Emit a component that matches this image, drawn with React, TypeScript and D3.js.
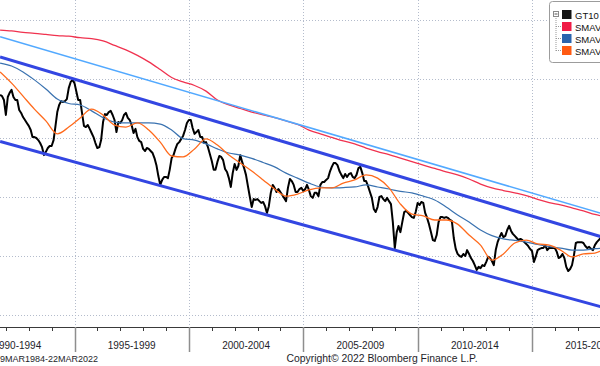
import { useRef, useEffect } from "react";
import * as d3 from "d3";

// GT10 monthly closes, starting Oct 1991
const gt10Start = "1991-10-01";
const gt10 = [
  7.46, 7.42, 7.29, 6.78, 7.39, 7.53, 7.63, 7.39, 7.29, 7.29, 6.95, 6.85,
  6.71, 6.61, 6.51, 6.41, 6.27, 6.03, 6.03, 6.0, 5.93, 5.83, 5.69, 5.42,
  5.53, 5.66, 5.73, 5.73, 5.93, 6.37, 6.88, 7.12, 7.25, 7.22, 7.25, 7.32,
  7.69, 7.9, 7.97, 7.86, 7.56, 7.29, 7.29, 6.85, 6.41, 6.37, 6.44, 6.31,
  6.17, 6.03, 5.83, 5.66, 5.69, 5.93, 6.54, 6.81, 6.78, 6.88, 6.92, 6.78,
  6.61, 6.2, 6.54, 6.51, 6.61, 6.78, 6.85, 6.68, 6.61, 6.44, 6.17, 6.31,
  6.03, 5.9, 5.86, 5.63, 5.56, 5.66, 5.63, 5.56, 5.49, 5.32, 5.08, 4.71,
  4.41, 4.58, 4.68, 4.68, 4.64, 4.92, 5.32, 5.42, 5.63, 5.8, 5.86, 5.97,
  6.07, 6.27, 6.51, 6.61, 6.61, 6.34, 6.14, 6.2, 6.27, 6.03, 6.03, 5.83,
  5.86, 5.69, 5.46, 5.22, 4.92, 4.92, 5.19, 5.39, 5.36, 5.25, 4.95, 4.85,
  4.64, 4.34, 4.81, 5.12, 4.92, 5.05, 5.42, 5.19, 4.98, 4.75, 4.37, 4.0,
  3.66, 3.93, 3.9, 3.93, 3.86, 3.8, 3.83, 3.69, 3.46, 3.69, 4.14, 4.41,
  4.31, 4.17, 4.27, 4.17, 4.07, 3.97, 3.86, 4.31, 4.61, 4.54, 4.41, 4.17,
  4.17, 4.27, 4.31, 4.2, 4.27, 4.41, 4.24, 4.03, 3.97, 4.14, 4.14, 4.03,
  4.41, 4.51, 4.51, 4.58, 4.64, 4.85, 5.02, 5.15, 5.15, 5.08, 4.88, 4.75,
  4.64, 4.78, 4.68, 4.78, 4.81, 4.68, 4.64, 4.75, 4.98, 5.02, 4.81, 4.54,
  4.54, 4.37, 4.17, 3.97, 3.59, 3.49, 3.66, 4.0, 4.03, 3.93, 3.86, 3.97,
  3.86, 3.76, 3.15, 2.27, 2.81, 3.02, 2.81, 3.15, 3.49, 3.53, 3.46, 3.39,
  3.32, 3.29, 3.49, 3.8, 3.73, 3.83, 3.8, 3.46, 3.29, 3.08, 2.81, 2.54,
  2.51, 2.71, 3.15, 3.32, 3.32, 3.29, 3.32, 3.29, 3.22, 3.19, 2.61, 2.24,
  2.07, 2.0, 1.97, 2.07, 2.0, 2.2, 2.07, 1.93, 1.83, 1.69, 1.53, 1.63,
  1.59, 1.69, 1.66, 1.8, 1.97, 1.93, 1.83, 1.69, 2.2, 2.47, 2.64, 2.78,
  2.64, 2.68, 2.88, 3.02, 2.85, 2.75, 2.68, 2.61, 2.54, 2.58, 2.54, 2.47,
  2.41, 2.34, 2.24, 2.17, 1.8, 1.97, 2.2, 2.24, 2.27, 2.27, 2.37, 2.2,
  2.27, 2.27, 2.27, 2.27, 2.14, 1.93, 1.97, 2.07, 1.93, 1.63, 1.49, 1.56,
  1.69, 2.03, 2.44, 2.47, 2.47, 2.47, 2.44, 2.34, 2.27, 2.31, 2.24, 2.2,
  2.37, 2.47, 2.54, 2.61,
];

// moving averages, one value every 6 months from Oct 1991
const smaStart = "1991-10-01";
const smaStepMonths = 6;
const sma200 = [
  9.66, 9.63, 9.58, 9.55, 9.51, 9.47, 9.45, 9.4, 9.37, 9.29,
  9.14, 8.99, 8.8, 8.58, 8.32, 8.05, 7.9, 7.78, 7.59, 7.29,
  7.12, 7.0, 6.88, 6.78, 6.69, 6.58, 6.46, 6.27, 6.14, 6.02,
  5.9, 5.8, 5.66, 5.54, 5.44, 5.32, 5.2, 5.08, 4.97, 4.85,
  4.75, 4.61, 4.44, 4.31, 4.22, 4.14, 4.05, 3.92, 3.81, 3.73,
  3.63, 3.53, 3.41, 3.32,
];
const sma100 = [
  8.54, 8.44, 8.24, 7.97, 7.66, 7.32, 7.17, 7.12, 6.92, 6.69,
  6.54, 6.51, 6.51, 6.51, 6.47, 6.27, 5.98, 5.93, 5.8, 5.63,
  5.49, 5.42, 5.31, 5.17, 5.02, 4.81, 4.64, 4.47, 4.34, 4.31,
  4.32, 4.34, 4.41, 4.34, 4.27, 4.19, 4.14, 4.03, 3.9, 3.66,
  3.39, 3.15, 2.88, 2.69, 2.58, 2.53, 2.47, 2.39, 2.32, 2.27,
  2.2, 2.2, 2.25, 2.27,
];
const sma50 = [
  8.24, 7.86, 7.42, 6.98, 6.58, 6.14, 6.37, 6.68, 6.98, 6.78,
  6.44, 6.37, 6.51, 6.27, 5.86, 5.39, 5.36, 5.63, 5.97, 5.76,
  5.42, 5.15, 4.88, 4.58, 4.27, 4.03, 4.1, 4.24, 4.31, 4.31,
  4.47, 4.58, 4.75, 4.64, 4.31, 3.76, 3.42, 3.36, 3.22, 3.22,
  3.08, 2.71, 2.37, 1.86, 2.07, 2.44, 2.54, 2.41, 2.37, 2.2,
  1.97, 2.07, 2.1, 2.27,
];

// hand-drawn trend lines: value at each end date
const trendDates = ["1991-10-01", "2018-01-01"];
const fanLine = [9.43, 3.45];
const channelUpper = [8.75, 2.66];
const channelLower = [5.88, 0.28];

const yTicks = [0, 2, 4, 6, 8, 10];
const periodStarts = [1990, 1995, 2000, 2005, 2010, 2015];
const periodLabels = ["1990-1994", "1995-1999", "2000-2004", "2005-2009", "2010-2014", "2015-2019"];

const legendLabels = [
  "GT10",
  "SMAVG (200) on Close (GT10)",
  "SMAVG (100) on Close (GT10)",
  "SMAVG (50) on Close (GT10)",
];
const legendColors = ["#141414", "#f01c45", "#2b64ad", "#ff5a12"];

const rangeText = "19MAR1984-22MAR2022";
const copyrightText = "Copyright\u00a9 2022 Bloomberg Finance L.P.";

export default function App() {
  const ref = useRef<SVGSVGElement | null>(null);

  useEffect(() => {
    const svg = d3.select(ref.current);
    svg.selectAll("*").remove();

    const width = 600;
    const height = 366;
    const axisY = 327;
    const font = "'Liberation Sans', Arial, sans-serif";
    const parse = d3.timeParse("%Y-%m-%d");

    const x = d3
      .scaleTime()
      .domain([new Date(1995, 0, 1), new Date(2015, 0, 1)])
      .range([74.5, 532]);
    const y = d3.scaleLinear().domain([0, 10]).range([315, 20]);

    svg.append("rect").attr("width", width).attr("height", height).attr("fill", "#fff");

    svg
      .append("defs")
      .append("clipPath")
      .attr("id", "plot-clip")
      .append("rect")
      .attr("width", width)
      .attr("height", axisY);

    // grid
    const grid = svg
      .append("g")
      .attr("stroke", "#b4bccc")
      .attr("stroke-width", 1)
      .attr("stroke-dasharray", "1,2");
    grid
      .selectAll("line.h")
      .data(yTicks)
      .join("line")
      .attr("class", "h")
      .attr("x1", 0)
      .attr("x2", width)
      .attr("y1", (d) => Math.round(y(d)) + 0.5)
      .attr("y2", (d) => Math.round(y(d)) + 0.5);

    const fiveYears = d3.timeYear.every(5)!.range(x.invert(-60), x.invert(width + 60));
    grid
      .selectAll("line.v")
      .data(fiveYears)
      .join("line")
      .attr("class", "v")
      .attr("x1", (d) => Math.round(x(d)) + 0.5)
      .attr("x2", (d) => Math.round(x(d)) + 0.5)
      .attr("y1", 0)
      .attr("y2", axisY);

    // x axis
    const axis = svg.append("g");
    axis
      .append("line")
      .attr("x1", 0)
      .attr("x2", width)
      .attr("y1", axisY + 0.5)
      .attr("y2", axisY + 0.5)
      .attr("stroke", "#3a3a3a");
    axis
      .selectAll("line.tick")
      .data(d3.timeYear.range(x.invert(-10), x.invert(width + 10)))
      .join("line")
      .attr("class", "tick")
      .attr("x1", (d) => Math.round(x(d)) + 0.5)
      .attr("x2", (d) => Math.round(x(d)) + 0.5)
      .attr("y1", axisY)
      .attr("y2", axisY + 4)
      .attr("stroke", "#3a3a3a");
    axis
      .selectAll("line.sep")
      .data(fiveYears)
      .join("line")
      .attr("class", "sep")
      .attr("x1", (d) => Math.round(x(d)) + 0.5)
      .attr("x2", (d) => Math.round(x(d)) + 0.5)
      .attr("y1", axisY)
      .attr("y2", 352)
      .attr("stroke", "#8e8e8e")
      .attr("stroke-width", 1.5);
    axis
      .selectAll("text")
      .data(periodStarts)
      .join("text")
      .attr("x", (d) => (x(new Date(d, 0, 1)) + x(new Date(d + 5, 0, 1))) / 2)
      .attr("y", 349)
      .attr("text-anchor", "middle")
      .attr("font-family", font)
      .attr("font-size", 10)
      .attr("fill", "#1e1e2a")
      .text((d, i) => periodLabels[i]);

    svg
      .append("text")
      .attr("x", -5)
      .attr("y", 362)
      .attr("font-family", font)
      .attr("font-size", 9)
      .attr("fill", "#1e1e2a")
      .text(rangeText);
    svg
      .append("text")
      .attr("x", 382)
      .attr("y", 362)
      .attr("text-anchor", "middle")
      .attr("font-family", font)
      .attr("font-size", 10.4)
      .attr("fill", "#1e1e2a")
      .text(copyrightText);

    // series
    const plot = svg.append("g").attr("clip-path", "url(#plot-clip)");
    type Pt = { date: Date; value: number };
    const line = d3
      .line<Pt>()
      .x((d) => x(d.date))
      .y((d) => y(d.value));
    const smooth = d3
      .line<Pt>()
      .curve(d3.curveMonotoneX)
      .x((d) => x(d.date))
      .y((d) => y(d.value));

    const gtStart = parse(gt10Start)!;
    const gtData: Pt[] = gt10.map((v, i) => ({ date: d3.timeMonth.offset(gtStart, i), value: v }));
    const sStart = parse(smaStart)!;
    const toSma = (arr: number[]): Pt[] =>
      arr.map((v, i) => ({ date: d3.timeMonth.offset(sStart, i * smaStepMonths), value: v }));
    const toTrend = (arr: number[]): Pt[] => arr.map((v, i) => ({ date: parse(trendDates[i])!, value: v }));

    plot
      .append("path")
      .datum(gtData)
      .attr("fill", "none")
      .attr("stroke", "#000")
      .attr("stroke-width", 2)
      .attr("stroke-linejoin", "round")
      .attr("d", line);

    const smaSeries = [
      { data: sma200, color: "#f0324f", w: 1.3 },
      { data: sma100, color: "#3a72b0", w: 1.2 },
      { data: sma50, color: "#ff6a1c", w: 1.3 },
    ];
    smaSeries.forEach((s) => {
      plot
        .append("path")
        .datum(toSma(s.data))
        .attr("fill", "none")
        .attr("stroke", s.color)
        .attr("stroke-width", s.w)
        .attr("d", smooth);
    });

    plot
      .append("path")
      .datum(toTrend(fanLine))
      .attr("fill", "none")
      .attr("stroke", "#52a9ff")
      .attr("stroke-width", 1.6)
      .attr("d", line);
    [channelUpper, channelLower].forEach((c) => {
      plot
        .append("path")
        .datum(toTrend(c))
        .attr("fill", "none")
        .attr("stroke", "#3346e2")
        .attr("stroke-width", 3)
        .attr("d", line);
    });

    // legend (runs off the right edge)
    const lg = svg.append("g");
    lg.append("rect")
      .attr("x", 549.5)
      .attr("y", 1.5)
      .attr("width", 120)
      .attr("height", 61)
      .attr("rx", 3)
      .attr("fill", "#fff")
      .attr("stroke", "#9c9c9c");
    lg.append("rect")
      .attr("x", 553.5)
      .attr("y", 11.5)
      .attr("width", 5)
      .attr("height", 5)
      .attr("fill", "#fff")
      .attr("stroke", "#8a8a8a");
    lg.append("line")
      .attr("x1", 554.5)
      .attr("x2", 557.5)
      .attr("y1", 14)
      .attr("y2", 14)
      .attr("stroke", "#555");
    lg.append("line")
      .attr("x1", 556)
      .attr("x2", 556)
      .attr("y1", 18)
      .attr("y2", 51)
      .attr("stroke", "#999")
      .attr("stroke-dasharray", "1,1");
    const items = lg
      .selectAll("g.item")
      .data(legendLabels)
      .join("g")
      .attr("class", "item")
      .attr("transform", (d, i) => `translate(0,${10 + i * 12})`);
    items
      .filter((d, i) => i > 0)
      .append("line")
      .attr("x1", 556)
      .attr("x2", 561)
      .attr("y1", 4.5)
      .attr("y2", 4.5)
      .attr("stroke", "#999")
      .attr("stroke-dasharray", "1,1");
    items
      .append("rect")
      .attr("x", 562)
      .attr("y", 0)
      .attr("width", 9.5)
      .attr("height", 9)
      .attr("fill", (d, i) => legendColors[i]);
    items
      .append("text")
      .attr("x", 575)
      .attr("y", 8.5)
      .attr("font-family", font)
      .attr("font-size", 9.5)
      .attr("fill", "#111")
      .text((d) => d);
  }, []);

  return (
    <svg
      ref={ref}
      width={600}
      height={366}
      style={{ position: "absolute", left: 0, top: 0, display: "block" }}
    ></svg>
  );
}
